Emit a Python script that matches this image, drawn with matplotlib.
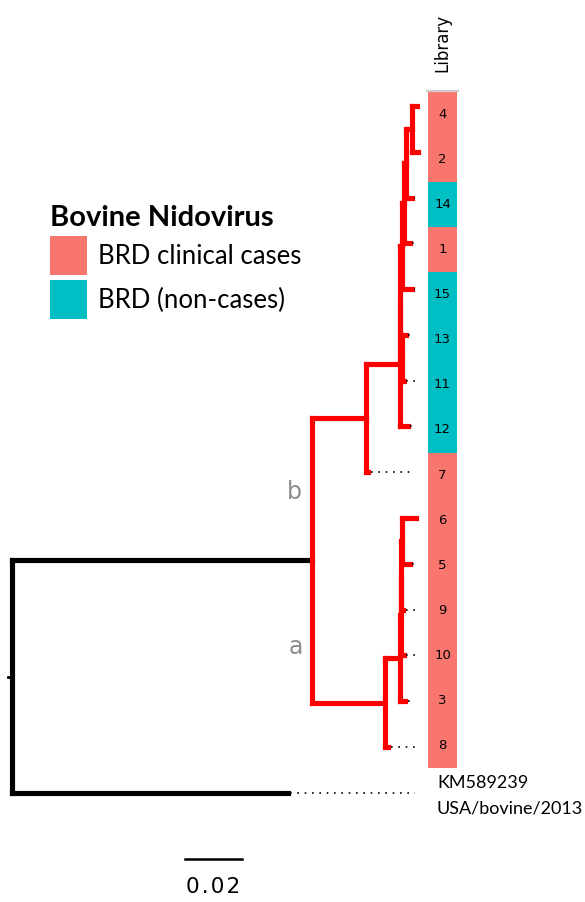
#Phylogenetic tree of bovine nidovirus libraries with library colour bar.
import numpy as np
import matplotlib.pyplot as plt
from matplotlib.patches import Patch

#tree as parent list, branch lengths in substitutions/site
nodes = ["root", "KM589239", "ingroup", "b", "a", "7", "B1", "nb2", "12",
         "nb3", "nb4", "13", "11", "nb5", "15", "nb6", "1", "nb7", "14", "4", "2",
         "na1", "8", "na2", "3", "na3", "10", "na4", "9", "6", "5"]
parents = [None, "root", "root", "ingroup", "ingroup", "b", "b", "B1", "B1",
           "nb2", "nb2", "nb4", "nb4", "nb3", "nb3", "nb5", "nb5", "nb6", "nb6", "nb7", "nb7",
           "a", "a", "na1", "na1", "na2", "na2", "na3", "na3", "na4", "na4"]
branch_len = [0.0, 0.0968, 0.1053, 0.0189, 0.0256, 0.0007, 0.0119, 0.0002, 0.0028,
              0.0004, 0.0007, 0.0011, 0.0004, 0.0007, 0.0035, 0.0007, 0.0021, 0.0021, 0.0021, 0.0018, 0.0021,
              0.0053, 0.0011, 0.0002, 0.0018, 0.0002, 0.0011, 0.0004, 0.0007, 0.0049, 0.0025]

leaf_order = ["4", "2", "14", "1", "15", "13", "11", "12", "7", "6", "5", "9", "10", "3", "8", "KM589239"]
library_rows = ["4", "2", "14", "1", "15", "13", "11", "12", "7", "6", "5", "9", "10", "3", "8"]
library_group = ["case", "case", "non", "case", "non", "non", "non", "non",
                 "case", "case", "case", "case", "case", "case", "case"]
group_colour = {"case": "#F8766D", "non": "#00BFC4"}
group_label = {"case": "BRD clinical cases", "non": "BRD (non-cases)"}
outgroup_label = "KM589239\nUSA/bovine/2013"
scale_len = 0.02

W, H = 585, 902
px_per_unit = 2850.0
root_px = 12
tip_top_px, tip_bot_px = 106, 747
px_per_leaf = (tip_bot_px - tip_top_px) / 14.0

#layout
children = {n: [] for n in nodes}
for n, p in zip(nodes, parents):
    if p is not None:
        children[p].append(n)
xpos, ypos = {}, {}
for n, p, bl in zip(nodes, parents, branch_len):
    xpos[n] = bl if p is None else xpos[p] + bl
def get_y(n):
    if not children[n]:
        ypos[n] = leaf_order.index(n)
    else:
        ys = [get_y(c) for c in children[n]]
        ypos[n] = (min(ys) + max(ys)) / 2
    return ypos[n]
get_y("root")

red_set = set()
def mark(n):
    for c in children[n]:
        red_set.add(c)
        mark(c)
mark("ingroup")

fig = plt.figure(figsize=(W/100, H/100), dpi=100)
ax = fig.add_axes([0, 0, 1, 1])
ax.set_xlim(-root_px/px_per_unit, (W-root_px)/px_per_unit)
ax.set_ylim(14 + (H-tip_bot_px)/px_per_leaf, -tip_top_px/px_per_leaf)
ax.axis("off")

lw = 3.7
for n, p in zip(nodes, parents):
    if p is None:
        continue
    col = "red" if n in red_set else "black"
    ax.plot([xpos[p], xpos[n]], [ypos[n], ypos[n]], color=col, lw=lw, solid_capstyle="projecting")
for n in nodes:
    if children[n]:
        ys = [ypos[c] for c in children[n]]
        col = "red" if (n in red_set or n == "ingroup") else "black"
        ax.plot([xpos[n], xpos[n]], [min(ys), max(ys)], color=col, lw=lw, solid_capstyle="projecting")
#root stub
ax.plot([-0.0014, 0], [ypos["root"], ypos["root"]], color="black", lw=2)

#dotted leaders to tip alignment
align_x = (415 - root_px) / px_per_unit
for leaf in leaf_order:
    if xpos[leaf] < align_x - 0.0008:
        ax.plot([xpos[leaf] + 0.0009, align_x], [ypos[leaf], ypos[leaf]], color="black",
                lw=1.2, linestyle=(0, (1, 3.4)))

#clade labels
ax.text(xpos["ingroup"] - 0.0062, 8.43, "b", color="#8c8c8c", fontsize=17, ha="center", va="center",
        family="DejaVu Sans")
ax.text(xpos["ingroup"] - 0.0057, 11.81, "a", color="#8c8c8c", fontsize=17, ha="center", va="center",
        family="DejaVu Sans")

#outgroup label
ax.text((437 - root_px)/px_per_unit, ypos["KM589239"] + 0.06, outgroup_label, fontsize=13,
        family="Lato", ha="left", va="center", linespacing=1.7)

#scale bar
sb_x = (185 - root_px)/px_per_unit
sb_y = (859 - tip_top_px)/px_per_leaf
ax.plot([sb_x, sb_x + scale_len], [sb_y, sb_y], color="black", lw=1.8)
ax.text(sb_x + scale_len/2, sb_y + 0.62, "0\u200a.\u200a0\u200a2", fontsize=15.5, ha="center", va="center",
        family="DejaVu Sans")

#library colour bar
bax = fig.add_axes([428/W, 1 - 768/H, 29/W, 676/H])
nrow = len(library_rows)
bax.barh(np.arange(nrow), [1]*nrow, height=1.0, left=0,
         color=[group_colour[g] for g in library_group], edgecolor="none")
for i, lab in enumerate(library_rows):
    bax.text(0.5, i, lab, ha="center", va="center", fontsize=9.5, family="DejaVu Sans")
bax.set_xlim(0, 1)
bax.set_ylim(nrow - 0.5, -0.5)
bax.axis("off")
bax.plot([-0.03, 1.03], [-0.53, -0.53], color="#cccccc", lw=1.6, clip_on=False)
bax.text(0.5, -0.95, "Library", rotation=90, ha="center", va="bottom", fontsize=12,
         transform=bax.transData, family="DejaVu Sans")

#legend
handles = [Patch(facecolor=group_colour[g], edgecolor="none", label=group_label[g]) for g in ["case", "non"]]
leg = fig.legend(handles=handles, title="Bovine Nidovirus", loc="upper left",
                 bbox_to_anchor=(46/W, 1 - 201/H), frameon=False,
                 prop={"family": "Lato", "size": 18.5},
                 title_fontproperties={"family": "Lato", "weight": "bold", "size": 21},
                 handlelength=1.45, handleheight=1.95, labelspacing=0.2, handletextpad=0.4,
                 alignment="left", borderpad=0.16, borderaxespad=0)

fig.savefig("out.png", dpi=100)
